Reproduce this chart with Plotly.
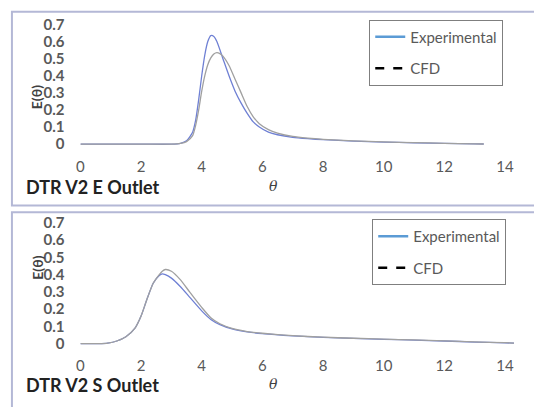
import plotly.graph_objects as go

# ---- data: DTR V2 E outlet ----
theta_E_exp = [0, 2, 3.0, 3.3, 3.5, 3.7, 3.8, 3.9, 4.0, 4.1, 4.2, 4.3, 4.4, 4.5, 4.7, 4.9, 5.1, 5.3,
               5.5, 5.7, 5.9, 6.2, 6.5, 7.0, 7.5, 8, 9, 10, 11, 12, 13, 13.3]
E_E_exp = [0, 0, 0, 0.005, 0.02, 0.07, 0.14, 0.26, 0.40, 0.52, 0.60, 0.635, 0.63, 0.60, 0.50, 0.40,
           0.31, 0.24, 0.18, 0.13, 0.10, 0.07, 0.055, 0.04, 0.032, 0.026, 0.018, 0.012, 0.008, 0.005,
           0.002, 0.001]
theta_E_cfd = [0, 2, 3.0, 3.3, 3.5, 3.7, 3.8, 3.9, 4.0, 4.1, 4.2, 4.3, 4.4, 4.5, 4.6, 4.7, 4.9, 5.1,
               5.3, 5.5, 5.7, 5.9, 6.2, 6.5, 7.0, 7.5, 8, 9, 10, 11, 12, 13, 13.3]
E_E_cfd = [0, 0, 0, 0.004, 0.015, 0.05, 0.11, 0.20, 0.31, 0.40, 0.465, 0.505, 0.528, 0.536, 0.53,
           0.515, 0.46, 0.38, 0.30, 0.22, 0.16, 0.12, 0.085, 0.065, 0.045, 0.035, 0.028, 0.019,
           0.013, 0.009, 0.005, 0.002, 0.001]

# ---- data: DTR V2 S outlet ----
theta_S = [0, 0.6, 0.9, 1.2, 1.5, 1.8, 2.0, 2.2, 2.4, 2.6, 2.7, 2.8, 3.0, 3.3, 3.6, 4.0, 4.3, 4.6,
           5.0, 5.5, 6, 7, 8, 9, 10, 11, 12, 13, 14, 14.3]
E_S_exp = [0, 0, 0.003, 0.015, 0.04, 0.09, 0.16, 0.26, 0.35, 0.395, 0.405, 0.40, 0.38, 0.33, 0.27,
           0.19, 0.14, 0.11, 0.085, 0.068, 0.058, 0.045, 0.036, 0.03, 0.025, 0.02, 0.015, 0.009,
           0.004, 0.003]
E_S_cfd = [0, 0, 0.003, 0.015, 0.04, 0.09, 0.16, 0.26, 0.35, 0.40, 0.42, 0.43, 0.42, 0.37, 0.30,
           0.21, 0.15, 0.115, 0.088, 0.07, 0.06, 0.046, 0.037, 0.031, 0.026, 0.021, 0.016, 0.010,
           0.005, 0.003]

x_ticks = [0, 2, 4, 6, 8, 10, 12, 14]
y_ticks = [0, 0.1, 0.2, 0.3, 0.4, 0.5, 0.6, 0.7]
y_tick_text = ["0", "0.1", "0.2", "0.3", "0.4", "0.5", "0.6", "0.7"]
panel_titles = ["DTR V2 E Outlet", "DTR V2 S Outlet"]
series_names = ["Experimental", "CFD"]

W, H = 534, 407
FONT = "Lato"
EXP_COLOR = "#6f80d4"
CFD_COLOR = "#a0a0a0"

fig = go.Figure()

line_kw = dict(width=1.3, shape="spline", smoothing=0.6)
# top panel
fig.add_trace(go.Scatter(x=theta_E_exp, y=E_E_exp, mode="lines", line=dict(color=EXP_COLOR, **line_kw),
                         xaxis="x", yaxis="y", showlegend=False))
fig.add_trace(go.Scatter(x=theta_E_cfd, y=E_E_cfd, mode="lines", line=dict(color=CFD_COLOR, **line_kw),
                         xaxis="x", yaxis="y", showlegend=False))
# bottom panel
fig.add_trace(go.Scatter(x=theta_S, y=E_S_exp, mode="lines", line=dict(color=EXP_COLOR, **line_kw),
                         xaxis="x2", yaxis="y2", showlegend=False))
fig.add_trace(go.Scatter(x=theta_S, y=E_S_cfd, mode="lines", line=dict(color=CFD_COLOR, **line_kw),
                         xaxis="x2", yaxis="y2", showlegend=False))

# legend entries (Excel-style legend styling)
for leg, xa, ya in [("legend", "x", "y"), ("legend2", "x2", "y2")]:
    fig.add_trace(go.Scatter(x=[None], y=[None], mode="lines", name=series_names[0],
                             line=dict(color="#5b9bd5", width=2.5), legend=leg, legendgroup=leg + "a",
                             xaxis=xa, yaxis=ya))
    fig.add_trace(go.Scatter(x=[None], y=[None], mode="lines", name=series_names[1],
                             line=dict(color="#000000", width=2.5, dash="dash"), legend=leg, legendgroup=leg + "b",
                             xaxis=xa, yaxis=ya))

def py(p):
    return 1 - p / H

xdom = [77 / W, 520 / W]
xaxis_common = dict(range=[0, 14.5], tickvals=x_ticks, showgrid=False, zeroline=False, showline=False,
                    ticks="", tickfont=dict(family=FONT, size=15, color="#595959"), ticklabelstandoff=8)
yaxis_common = dict(range=[-0.02, 0.72], tickvals=y_ticks, ticktext=y_tick_text, showgrid=False,
                    zeroline=False, showline=False, ticks="",
                    tickfont=dict(family=FONT, size=15, color="#595959", weight="bold"), ticklabelstandoff=15)

legend_common = dict(bgcolor="white", bordercolor="#7f7f7f", borderwidth=1,
                     font=dict(family=FONT, size=15, color="#595959"),
                     traceorder="grouped", tracegroupgap=9, xanchor="left", yanchor="top",
                     itemwidth=30)

fig.update_layout(
    width=W, height=H, margin=dict(l=0, r=0, t=0, b=0),
    paper_bgcolor="white", plot_bgcolor="white",
    xaxis=dict(domain=xdom, anchor="y", **xaxis_common),
    yaxis=dict(domain=[py(145.5), py(15.5)], anchor="x", **yaxis_common),
    xaxis2=dict(domain=xdom, anchor="y2", **xaxis_common),
    yaxis2=dict(domain=[py(350.5), py(219.5)], anchor="x2", **yaxis_common),
    legend=dict(x=368 / W, y=py(14), **legend_common),
    legend2=dict(x=371 / W, y=py(219), **legend_common),
    shapes=[
        dict(type="rect", xref="paper", yref="paper", x0=8 / W, x1=1.02, y0=py(205), y1=py(6),
             line=dict(color="#b4b8d6", width=2)),
        dict(type="rect", xref="paper", yref="paper", x0=8 / W, x1=1.02, y0=-0.05, y1=py(212),
             line=dict(color="#b4b8d6", width=2)),
    ],
    annotations=[
        dict(text=panel_titles[0], xref="paper", yref="paper", x=20 / W, y=py(186), xanchor="left",
             yanchor="middle", showarrow=False, font=dict(family=FONT, size=18, color="#222222", weight="bold")),
        dict(text=panel_titles[1], xref="paper", yref="paper", x=20 / W, y=py(390), xanchor="left",
             yanchor="middle", showarrow=False, font=dict(family=FONT, size=18, color="#222222", weight="bold")),
        dict(text="<i>θ</i>", xref="paper", yref="paper", x=272 / W, y=py(185), showarrow=False,
             font=dict(family="DejaVu Serif", size=14, color="#404040")),
        dict(text="<i>θ</i>", xref="paper", yref="paper", x=272 / W, y=py(399), showarrow=False,
             font=dict(family="DejaVu Serif", size=14, color="#404040")),
        dict(text="<b>E(θ)</b>", xref="paper", yref="paper", x=23 / W, y=py(79), showarrow=False,
             textangle=-90, font=dict(family=FONT, size=14, color="#404040")),
        dict(text="<b>E(θ)</b>", xref="paper", yref="paper", x=23 / W, y=py(283), showarrow=False,
             textangle=-90, font=dict(family=FONT, size=14, color="#404040")),
    ],
)

fig.write_html("out.html")
